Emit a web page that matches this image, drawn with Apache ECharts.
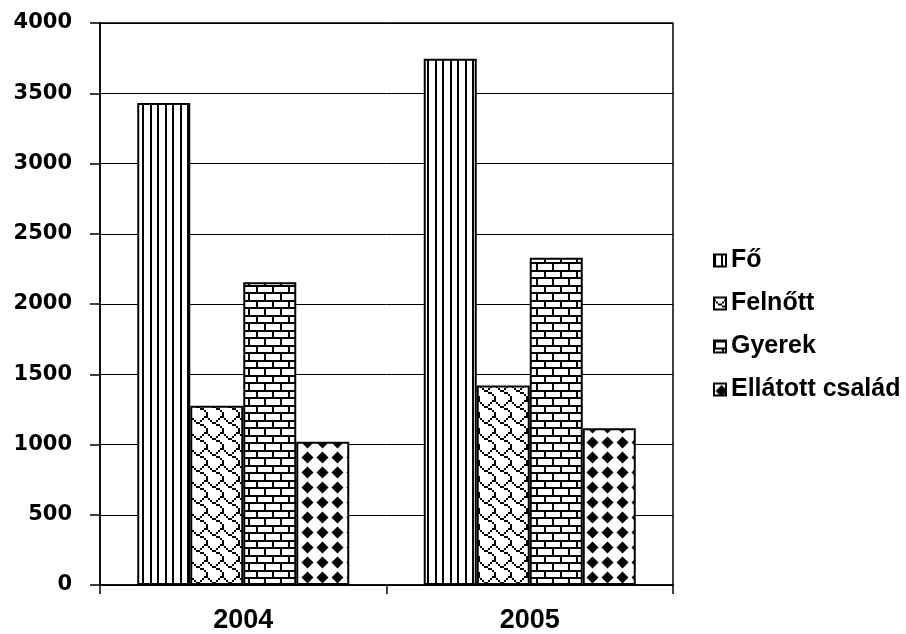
<!DOCTYPE html>
<html>
<head>
<meta charset="utf-8">
<script src="https://cdn.jsdelivr.net/npm/echarts@6/dist/echarts.min.js"></script>
<style>
  html, body { margin: 0; padding: 0; background: #fff; }
  #chart { width: 906px; height: 634px; }
</style>
</head>
<body>
<div id="chart"></div>
<script>
// Yearly figures per group
const years = ['2004', '2005'];
const seriesNames = ['Fő', 'Felnőtt', 'Gyerek', 'Ellátott család'];
const fo = [3430, 3745];
const felnott = [1275, 1420];
const gyerek = [2155, 2330];
const ellatott = [1020, 1115];
const yMin = 0, yMax = 4000, yStep = 500;

// --- monochrome fill patterns ---
function tile(w, h, draw) {
  const c = document.createElement('canvas');
  c.width = w; c.height = h;
  const g = c.getContext('2d');
  g.fillStyle = '#fff';
  g.fillRect(0, 0, w, h);
  g.fillStyle = '#000';
  draw(g);
  return { image: c, repeat: 'repeat' };
}

// vertical stripes
const stripes = tile(15, 15, g => {
  g.fillRect(0, 0, 2, 15);
  g.fillRect(7, 0, 2, 15);
});

// shingle: 8x8 bitmap doubled
const shingleBits = [0x03, 0x84, 0x48, 0x30, 0x0c, 0x02, 0x01, 0x01];
const shingle = tile(16, 16, g => {
  shingleBits.forEach((row, y) => {
    for (let x = 0; x < 8; x++) {
      if (row & (0x80 >> x)) g.fillRect(x * 2, y * 2, 2, 2);
    }
  });
});

// brick wall
const bricks = tile(16, 15, g => {
  g.fillRect(0, 0, 16, 2);
  g.fillRect(0, 0, 2, 8);
  g.fillRect(0, 7, 16, 2);
  g.fillRect(8, 7, 2, 8);
});

// solid diamonds
const diamonds = tile(15, 15, g => {
  g.beginPath();
  g.moveTo(7.5, 1.5);
  g.lineTo(13.5, 7.5);
  g.lineTo(7.5, 13.5);
  g.lineTo(1.5, 7.5);
  g.closePath();
  g.fill();
});

const fills = [stripes, shingle, bricks, diamonds];
const values = [fo, felnott, gyerek, ellatott];

const chart = echarts.init(document.getElementById('chart'), null, { renderer: 'canvas' });

chart.setOption({
  animation: false,
  backgroundColor: '#fff',
  grid: {
    left: 100, top: 23, right: 233, bottom: 48,
    show: true, borderColor: '#000', borderWidth: 1.5,
    containLabel: false
  },
  legend: {
    orient: 'vertical',
    left: 713, top: 248,
    padding: 0,
    icon: 'rect',
    itemWidth: 12, itemHeight: 12,
    itemGap: 18,
    textStyle: {
      fontFamily: 'Liberation Sans', fontWeight: 'bold', fontSize: 25, color: '#000'
    },
    data: seriesNames
  },
  xAxis: {
    type: 'category',
    data: years,
    boundaryGap: true,
    axisLine: { lineStyle: { color: '#000', width: 1.5 } },
    axisTick: { show: true, length: 9, lineStyle: { color: '#000', width: 1.5 } },
    axisLabel: {
      margin: 22,
      fontFamily: 'Liberation Sans', fontWeight: 'bold', fontSize: 27, color: '#000'
    }
  },
  yAxis: {
    type: 'value',
    min: yMin, max: yMax, interval: yStep,
    axisLine: { show: true, lineStyle: { color: '#000', width: 1.5 } },
    axisTick: { show: true, length: 10, lineStyle: { color: '#000', width: 1.5 } },
    splitLine: { show: true, lineStyle: { color: '#000', width: 1 } },
    axisLabel: {
      margin: 28,
      formatter: v => String(v),
      fontFamily: 'DejaVu Sans', fontWeight: 'bold', fontSize: 21, color: '#000'
    }
  },
  series: seriesNames.map((name, i) => ({
    name: name,
    type: 'bar',
    data: values[i],
    barGap: '0%',
    barCategoryGap: '26%',
    itemStyle: { color: fills[i], borderColor: '#000', borderWidth: 2 }
  }))
});
</script>
</body>
</html>
